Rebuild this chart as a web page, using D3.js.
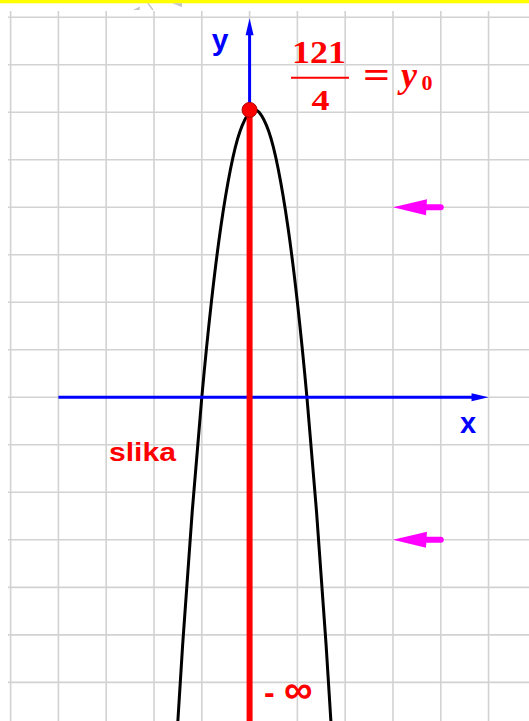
<!DOCTYPE html>
<html>
<head>
<meta charset="utf-8">
<script src="https://cdn.jsdelivr.net/npm/d3@7"></script>
<style>
  body { margin: 0; background: #fff; }
  svg { display: block; }
</style>
</head>
<body>
<div id="chart"></div>
<script>
/* parabola f(x) = -x^2 + x + 30, range (-inf, 121/4] */

const width = 529,
    height = 721;

// grid lines, every 5 units
const gridX = [-25, -20, -15, -10, -5, 0, 5, 10, 15, 20, 25];
const gridY = [40, 35, 30, 25, 20, 15, 10, 5, 0, -5, -10, -15, -20, -25, -30];

// points of the curve
const curveX = [-8, -7, -6, -5, -4, -3, -2, -1, 0, 0.5, 1, 2, 3, 4, 5, 6, 7, 8, 9];
const curveY = [-42, -26, -12, 0, 10, 18, 24, 28, 30, 30.25, 30, 28, 24, 18, 10, 0, -12, -26, -42];

const vertex = [0, 121 / 4]; // y0 marked on the y axis
const arrowLevels = [20, -15]; // magenta arrows
const arrowFrom = 20, arrowTo = 15;
const xAxisSpan = [-20, 25];
const yAxisTop = 39.9;

const svg = d3.select("#chart")
    .append("svg")
    .attr("width", width)
    .attr("height", height)
    .attr("viewBox", [0, 0, width, height]);

let x = d3.scaleLinear()
    .domain([-26.11, 29.23])
    .range([0, width]);

let y = d3.scaleLinear()
    .domain([41.82, -34.07])
    .range([0, height]);

// yellow strip on top
svg.append("rect")
    .attr("width", width)
    .attr("height", 3.3)
    .attr("fill", "#ffff00");

// little grey bits cut off at the top
svg.append("path")
    .attr("d", "M133,10 L140,6.5 L139.5,10 Z M172,3.3 L182,3.3 L182,7 Z")
    .attr("fill", "#c4c4c4");
svg.append("path")
    .attr("d", "M148,3.3 L153,10")
    .attr("stroke", "#c4c4c4")
    .attr("stroke-width", 1.4);

// grid
svg.append("g")
    .selectAll("line")
    .data(gridX)
    .join("line")
    .attr("x1", d => x(d))
    .attr("x2", d => x(d))
    .attr("y1", 11)
    .attr("y2", height)
    .attr("stroke", "#d2d2d2")
    .attr("stroke-width", 1.6);

svg.append("g")
    .selectAll("line")
    .data(gridY)
    .join("line")
    .attr("x1", 8)
    .attr("x2", width)
    .attr("y1", d => y(d))
    .attr("y2", d => y(d))
    .attr("stroke", "#d2d2d2")
    .attr("stroke-width", 1.6);

// the parabola
let line = d3.line()
    .x((d, i) => x(curveX[i]))
    .y(d => y(d))
    .curve(d3.curveNatural);

svg.append("path")
    .datum(curveY)
    .attr("d", line)
    .attr("fill", "none")
    .attr("stroke", "#000")
    .attr("stroke-width", 3);

// x axis with arrow
const axisBlue = "#0000ff";
svg.append("line")
    .attr("x1", x(xAxisSpan[0]))
    .attr("x2", x(xAxisSpan[1]) - 10)
    .attr("y1", y(0))
    .attr("y2", y(0))
    .attr("stroke", axisBlue)
    .attr("stroke-width", 3);

let xt = x(xAxisSpan[1]), y0px = y(0);
svg.append("path")
    .attr("d", `M${xt},${y0px} L${xt - 17},${y0px - 4} L${xt - 17},${y0px + 4} Z`)
    .attr("fill", axisBlue);

// y axis (only above the vertex)
svg.append("line")
    .attr("x1", x(0))
    .attr("x2", x(0))
    .attr("y1", y(vertex[1]))
    .attr("y2", y(yAxisTop) + 10)
    .attr("stroke", axisBlue)
    .attr("stroke-width", 3);

let yt = y(yAxisTop), x0px = x(0);
svg.append("path")
    .attr("d", `M${x0px},${yt} L${x0px - 4},${yt + 17} L${x0px + 4},${yt + 17} Z`)
    .attr("fill", axisBlue);

// range: red line from the vertex down to -inf
svg.append("line")
    .attr("x1", x(vertex[0]))
    .attr("x2", x(vertex[0]))
    .attr("y1", y(vertex[1]))
    .attr("y2", height)
    .attr("stroke", "#ff0000")
    .attr("stroke-width", 6);

svg.append("circle")
    .attr("cx", x(vertex[0]))
    .attr("cy", y(vertex[1]))
    .attr("r", 7.5)
    .attr("fill", "#ff0000")
    .attr("stroke", "#b00000")
    .attr("stroke-width", 1);

// magenta arrows
const arrows = svg.append("g")
    .selectAll("g")
    .data(arrowLevels)
    .join("g");

arrows.append("line")
    .attr("x1", x(arrowFrom))
    .attr("x2", x(arrowTo) + 25)
    .attr("y1", d => y(d))
    .attr("y2", d => y(d))
    .attr("stroke", "#ff00ff")
    .attr("stroke-width", 6)
    .attr("stroke-linecap", "round");

arrows.append("path")
    .attr("d", d => {
        let tx = x(arrowTo), ty = y(d);
        return `M${tx},${ty} L${tx + 34},${ty - 8} L${tx + 33},${ty + 8} Z`;
    })
    .attr("fill", "#ff00ff");

// labels
const sans = "'Liberation Sans', Arial, sans-serif",
    serif = "'Liberation Serif', 'Times New Roman', serif";

svg.append("text")
    .attr("x", 220)
    .attr("y", 49.5)
    .attr("text-anchor", "middle")
    .attr("font-family", sans)
    .attr("font-weight", "bold")
    .attr("font-size", 30)
    .attr("fill", axisBlue)
    .text("y");

svg.append("text")
    .attr("x", 468)
    .attr("y", 433)
    .attr("text-anchor", "middle")
    .attr("font-family", sans)
    .attr("font-weight", "bold")
    .attr("font-size", 29)
    .attr("fill", axisBlue)
    .text("x");

svg.append("text")
    .attr("x", 109)
    .attr("y", 460.5)
    .attr("font-family", sans)
    .attr("font-weight", "bold")
    .attr("font-size", 25)
    .attr("textLength", 67)
    .attr("lengthAdjust", "spacingAndGlyphs")
    .attr("fill", "#ff0000")
    .text("slika");

let inf = svg.append("text")
    .attr("x", 264)
    .attr("y", 703)
    .attr("font-family", sans)
    .attr("font-weight", "bold")
    .attr("font-size", 32)
    .attr("fill", "#ff0000");
inf.append("tspan").text("- ");
inf.append("tspan")
    .attr("x", 284)
    .attr("font-size", 40)
    .text("∞");

// fraction 121/4 = y0
const frac = svg.append("g")
    .attr("fill", "#ff0000")
    .attr("font-family", serif)
    .attr("font-weight", "bold");

frac.append("text")
    .attr("x", 292)
    .attr("y", 63.3)
    .attr("font-size", 31)
    .attr("textLength", 54)
    .attr("lengthAdjust", "spacingAndGlyphs")
    .text("121");

frac.append("line")
    .attr("x1", 291)
    .attr("x2", 349)
    .attr("y1", 77.7)
    .attr("y2", 77.7)
    .attr("stroke", "#ff0000")
    .attr("stroke-width", 2);

frac.append("text")
    .attr("x", 320.5)
    .attr("y", 110.3)
    .attr("text-anchor", "middle")
    .attr("font-size", 30)
    .attr("textLength", 18)
    .attr("lengthAdjust", "spacingAndGlyphs")
    .text("4");

frac.append("text")
    .attr("x", 363)
    .attr("y", 87.5)
    .attr("font-size", 38)
    .attr("textLength", 27)
    .attr("lengthAdjust", "spacingAndGlyphs")
    .text("=");

let y0label = frac.append("text")
    .attr("x", 401)
    .attr("y", 86.5)
    .attr("font-size", 36)
    .attr("font-style", "italic");
y0label.append("tspan").text("y");
y0label.append("tspan")
    .attr("x", 421.5)
    .attr("font-style", "normal")
    .attr("font-size", 22)
    .attr("dy", 3.5)
    .text("0");
</script>
</body>
</html>
